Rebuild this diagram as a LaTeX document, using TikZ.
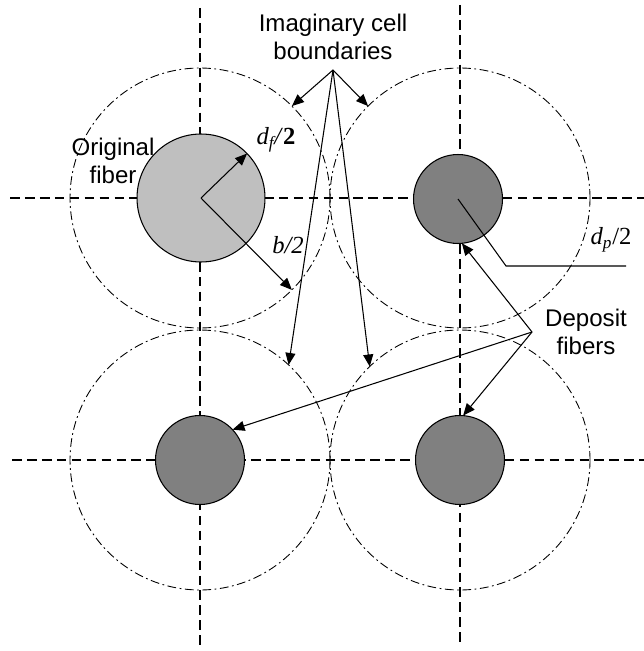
\documentclass[tikz,border=0pt]{standalone}
\usepackage{fontspec}
\setmainfont{Liberation Sans}
\newfontfamily\tnr{Liberation Serif}
\usetikzlibrary{arrows.meta}

\begin{document}
\begin{tikzpicture}[x=0.02cm,y=-0.02cm,
  axis/.style={line width=0.7pt,dash pattern=on 5.5pt off 3pt},
  cell/.style={circle,draw,line width=0.5pt,dash pattern=on 5pt off 2pt on 1pt off 2pt,minimum size=5.2cm,inner sep=0pt,outer sep=0pt},
  fiber/.style={circle,draw,line width=0.6pt,inner sep=0pt,outer sep=0pt},
  lbl/.style={font=\fontsize{13.7}{16}\selectfont,align=center,inner sep=0pt},
  mlbl/.style={font=\tnr\fontsize{14}{16}\selectfont,inner sep=0pt},
  arr/.style={-{Triangle[length=0.24cm,width=0.2cm]},line width=0.6pt}]
\useasboundingbox (0,0) rectangle (644,651);

% symmetry lines
\draw[axis] (10,198) -- (644,198);
\draw[axis] (12,460) -- (644,460);
\draw[axis] (200,8) -- (200,647);
\draw[axis] (460,5) -- (460,643);

% cells
\node[cell] (c1) at (200,198) {};
\node[cell] (c2) at (460,198) {};
\node[cell] (c3) at (200,460) {};
\node[cell] (c4) at (460,460) {};

% fibers
\node[fiber,fill=black!25,minimum size=2.56cm] (of) at (201,198) {};
\node[fiber,fill=black!50,minimum size=1.78cm] (dp1) at (458,199) {};
\node[fiber,fill=black!50,minimum size=1.78cm] (dp2) at (200,460) {};
\node[fiber,fill=black!50,minimum size=1.78cm] (dp3) at (460,460) {};

% labels
\node[lbl] (imag) at (333,37) {Imaginary cell\\boundaries};
\node[lbl] (orig) at (113,161) {Original\\fiber};
\node[lbl] (dep) at (586,332) {Deposit\\fibers};
\node[mlbl] (dflbl) at (276,140) {{\itshape d\textsubscript{f}/}\textbf{2}};
\node[mlbl] (blbl) at (288,245) {\itshape b/2};
\node[mlbl] (dplbl) at (611,240) {{\itshape d\textsubscript{p}}/2};

\coordinate (ib) at (333,70);
\coordinate (dpt) at (532,332);
\coordinate (dpk) at (506,266);
\coordinate (dpe) at (626,266);

% radii
\draw[arr] (of.center) -- (of.44);
\draw[arr] (of.center) -- (c1.-45);
\draw[line width=0.6pt] (dp1.center) -- (dpk) -- (dpe);

% cell boundary arrows
\draw[arr] (ib) -- (c1.45);
\draw[arr] (ib) -- (c2.135);
\draw[arr] (ib) -- (c3.47);
\draw[arr] (ib) -- (c4.134);

% deposit arrows
\draw[arr] (dpt) -- (dp1.-85);
\draw[arr] (dpt) -- (dp2.43);
\draw[arr] (dpt) -- (dp3.86);
\end{tikzpicture}
\end{document}
